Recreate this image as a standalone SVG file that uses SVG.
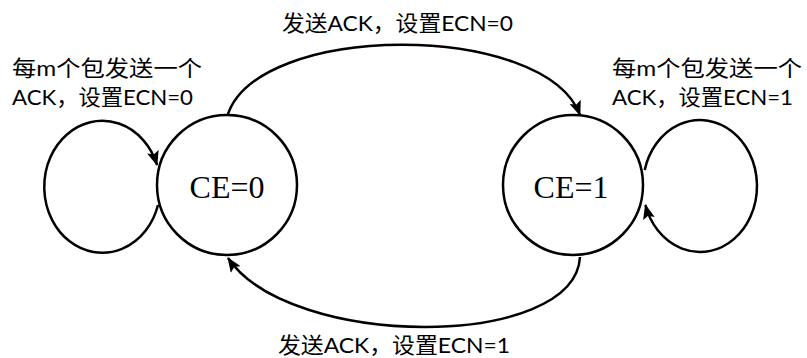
<svg xmlns="http://www.w3.org/2000/svg" width="807" height="358" viewBox="0 0 807 358">
  <style>
    .state { fill: #ffffff; stroke: #000000; stroke-width: 2.5; }
    .state-label { font-family: "Liberation Serif", "Times New Roman", serif; font-size: 32px; fill: #000000; text-anchor: middle; }
    .edge { fill: none; stroke: #000000; stroke-width: 2.5; marker-end: url(#arrow); }
    .edge-label { font-family: "Lato", "Noto Sans CJK SC", sans-serif; font-size: 22px; font-weight: 400; fill: #000000; }
  </style>
  <defs>
    <marker id="arrow" viewBox="0 0 15 12" refX="14" refY="6" markerWidth="15" markerHeight="12" markerUnits="userSpaceOnUse" orient="auto">
      <path d="M0,0 L15,6 L0,12 L3,6 Z" fill="#000000"/>
    </marker>
  </defs>
  <rect width="807" height="358" fill="#ffffff"/>

  <g id="connectors">
    <!-- CE=0 to CE=1 (upper arc) -->
    <path class="edge" d="M227,117 C255,21 545,21 580,115"/>
    <!-- CE=1 to CE=0 (lower arc) -->
    <path class="edge" d="M580,257 C575,350 290,350 228,258"/>
    <!-- self loop on CE=0 -->
    <path class="edge" d="M158,205 A58,66 0 1 1 157,165"/>
    <!-- self loop on CE=1 -->
    <path class="edge" d="M644.7,170 A57,66 0 1 1 645.4,205"/>
  </g>

  <g id="labels">
    <text class="edge-label" x="282" y="31" textLength="231" lengthAdjust="spacingAndGlyphs">发送ACK，设置ECN=0</text>
    <text class="edge-label" x="278" y="353" textLength="232" lengthAdjust="spacingAndGlyphs">发送ACK，设置ECN=1</text>
    <text class="edge-label" x="12" y="76" textLength="190" lengthAdjust="spacingAndGlyphs">每m个包发送一个</text>
    <text class="edge-label" x="12" y="105" textLength="181" lengthAdjust="spacingAndGlyphs">ACK，设置ECN=0</text>
    <text class="edge-label" x="612" y="76" textLength="190" lengthAdjust="spacingAndGlyphs">每m个包发送一个</text>
    <text class="edge-label" x="612" y="105" textLength="181" lengthAdjust="spacingAndGlyphs">ACK，设置ECN=1</text>
  </g>

  <g id="state-ce0">
    <circle class="state" cx="227" cy="185" r="70"/>
    <text class="state-label" x="227" y="198">CE=0</text>
  </g>

  <g id="state-ce1">
    <circle class="state" cx="573" cy="185" r="70"/>
    <text class="state-label" x="571" y="198">CE=1</text>
  </g>
</svg>
